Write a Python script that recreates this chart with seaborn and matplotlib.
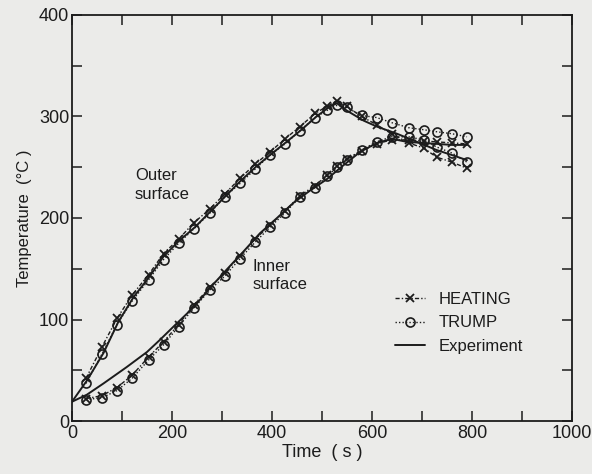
import matplotlib
matplotlib.use("Agg")
import matplotlib.pyplot as plt
from matplotlib.ticker import MultipleLocator
import seaborn as sns
import pandas as pd

# ---------------- data ----------------
t_exp_outer = [0, 30, 63, 93, 123, 153, 183, 213, 246, 276, 306, 336, 369, 396,
               429, 459, 489, 516, 530, 549, 583, 610, 650, 690, 729, 760, 790]
outer_exp = [19, 40, 67, 98, 122, 141, 162, 177, 191, 206, 221, 236, 251, 262,
             275, 287, 300, 310, 313, 306, 296, 290, 283, 275, 267, 262, 257]

t_exp_inner = [0, 30, 63, 109, 150, 176, 203, 243, 276, 309, 343, 376, 410,
               443, 476, 509, 543, 576, 610, 640, 670, 700, 730, 760, 790]
inner_exp = [19, 26, 37, 53, 68, 80, 93, 112, 131, 149, 167, 185, 200,
             215, 227, 238, 252, 265, 274, 278, 275, 274, 273, 272, 272]

t_model = [28, 60, 90, 120, 153, 183, 213, 243, 276, 306, 336, 366, 396, 426,
           456, 486, 510, 530, 549, 579, 609, 639, 673, 703, 729, 760, 790]
outer_trump = [37, 66, 95, 118, 139, 159, 175, 189, 205, 221, 234, 248, 262, 273,
               286, 299, 306, 311, 309, 301, 299, 294, 289, 287, 285, 283, 280]
outer_heating = [42, 73, 101, 124, 144, 165, 179, 195, 209, 224, 239, 253, 265, 278,
                 290, 303, 310, 315, 310, 300, 292, 283, 274, 269, 260, 255, 249]
inner_trump = [21, 23, 30, 42, 60, 75, 93, 111, 129, 143, 160, 176, 191, 205,
               221, 230, 241, 250, 257, 267, 275, 280, 280, 277, 270, 264, 255]
inner_heating = [22, 25, 33, 45, 63, 78, 95, 114, 132, 146, 163, 179, 193, 207,
                 222, 232, 242, 251, 258, 266, 273, 277, 277, 276, 275, 274, 273]

legend_labels = ["HEATING", "TRUMP", "Experiment"]
x_ticks = [0, 200, 400, 600, 800, 1000]
y_ticks = [0, 100, 200, 300, 400]

# ---------------- style ----------------
sns.set_style("ticks")
plt.rcParams["font.family"] = ["Liberation Sans", "DejaVu Sans"]
bg = "#ebebe9"
ink = "#1c1c1c"

fig = plt.figure(figsize=(5.92, 4.74), dpi=100, facecolor=bg)
ax = fig.add_axes([72 / 592, 1 - 421 / 474, 500 / 592, 406 / 474])
ax.set_facecolor(bg)

def frame(x, y):
    return pd.DataFrame({"t": x, "T": y})

common = dict(x="t", y="T", ax=ax, estimator=None, sort=False, errorbar=None, color=ink)

# HEATING (dash-dot with x markers)
heat_kw = dict(lw=1.0, dashes=(3, 1.5, 1, 1.5), marker="x", markersize=6,
               markeredgewidth=1.3, markeredgecolor=ink, markerfacecolor=ink)
sns.lineplot(data=frame(t_model, outer_heating), **common, **heat_kw)
h_heat = ax.get_lines()[-1]
sns.lineplot(data=frame(t_model, inner_heating), **common, **heat_kw)

# TRUMP (dotted with open circles)
trump_kw = dict(lw=1.0, dashes=(1, 1.5), marker="o", markersize=6.5,
                markerfacecolor="none", markeredgecolor=ink, markeredgewidth=1.2)
sns.lineplot(data=frame(t_model, outer_trump), **common, **trump_kw)
h_trump = ax.get_lines()[-1]
sns.lineplot(data=frame(t_model, inner_trump), **common, **trump_kw)

# Experiment (solid)
sns.lineplot(data=frame(t_exp_outer, outer_exp), **common, lw=1.4)
h_exp = ax.get_lines()[-1]
sns.lineplot(data=frame(t_exp_inner, inner_exp), **common, lw=1.4)

# ---------------- axes ----------------
ax.set_xlim(0, 1000)
ax.set_ylim(0, 400)
ax.set_xticks(x_ticks)
ax.set_yticks(y_ticks)
ax.xaxis.set_minor_locator(MultipleLocator(100))
ax.yaxis.set_minor_locator(MultipleLocator(50))
ax.tick_params(which="both", direction="in", top=True, right=True,
               length=7, width=1.1, color=ink)
ax.tick_params(axis="x", which="major", labelsize=13, pad=3, labelcolor=ink)
ax.tick_params(axis="y", which="major", labelsize=13, pad=2, labelcolor=ink)
for s in ax.spines.values():
    s.set_linewidth(1.3)
    s.set_color(ink)

ax.set_xlabel("Time  ( s )", fontsize=13, color=ink, labelpad=1)
ax.set_ylabel("Temperature  (°C )", fontsize=12, color=ink, labelpad=5)

ax.text(126, 249, "Outer\nsurface", fontsize=12, color=ink, va="top", ha="left",
        linespacing=1.3)
ax.text(362, 160, "Inner\nsurface", fontsize=12, color=ink, va="top", ha="left",
        linespacing=1.3)

leg = ax.legend([h_heat, h_trump, h_exp], legend_labels, loc="upper left",
                bbox_to_anchor=((395 - 72) / 500, (421 - 292) / 406),
                frameon=False, fontsize=12, handlelength=1.8, handletextpad=0.8,
                labelspacing=0.5, borderpad=0, borderaxespad=0)
for t in leg.get_texts():
    t.set_color(ink)

fig.savefig("out.png", dpi=100, facecolor=bg)
